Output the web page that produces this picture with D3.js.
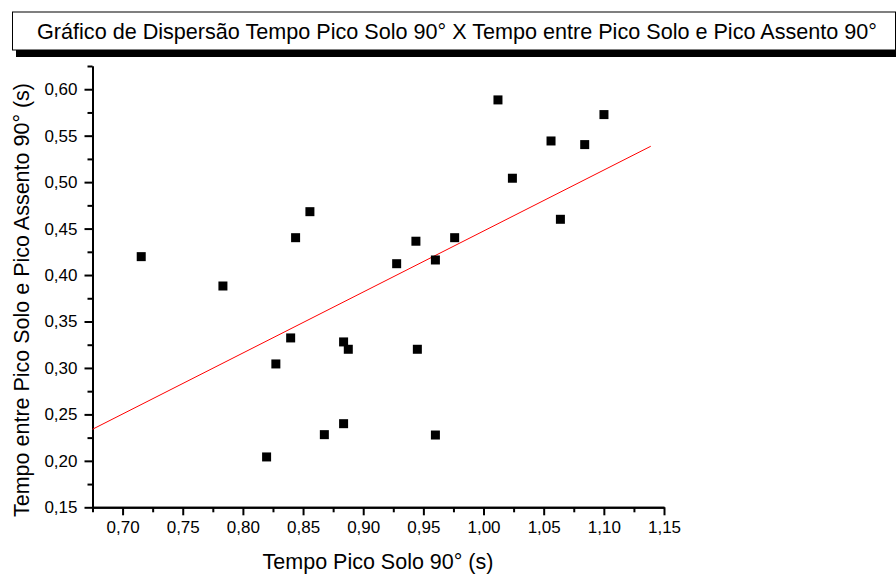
<!DOCTYPE html>
<html><head><meta charset="utf-8">
<script src="https://cdn.jsdelivr.net/npm/d3@7"></script>
<style>body{margin:0;background:#fff}svg{display:block}text{font-family:"Liberation Sans",Arial,sans-serif}</style>
</head><body><svg id="c" width="896" height="574"></svg>
<script>
const title = "Gráfico de Dispersão Tempo Pico Solo 90° X Tempo entre Pico Solo e Pico Assento 90°";
const xLabel = "Tempo Pico Solo 90° (s)";
const yLabel = "Tempo entre Pico Solo e Pico Assento 90° (s)";
const xValues = [0.7155,0.7834,0.8197,0.8274,0.8397,0.8438,0.8557,0.8677,0.8837,0.8876,0.8837,0.9278,0.9438,0.945,0.960,0.960,0.976,1.012,1.024,1.0561,1.0639,1.0841,1.1001];
const yValues = [0.4198,0.3882,0.2042,0.3043,0.3323,0.4402,0.4682,0.2282,0.328,0.3201,0.240,0.4122,0.4364,0.3201,0.4162,0.2278,0.4402,0.5885,0.5042,0.5443,0.460,0.5404,0.5727];
const fitX = [0.675, 1.139];
const fitY = [0.234, 0.5386];
const xTicks = [0.70,0.75,0.80,0.85,0.90,0.95,1.00,1.05,1.10,1.15];
const yTicks = [0.15,0.20,0.25,0.30,0.35,0.40,0.45,0.50,0.55,0.60];
const xMinorTicks = [0.675,0.725,0.775,0.825,0.875,0.925,0.975,1.025,1.075,1.125];
const yMinorTicks = [0.175,0.225,0.275,0.325,0.375,0.425,0.475,0.525,0.575,0.625];
const xDomain = [0.675, 1.15];
const yDomain = [0.15, 0.625];

const svg = d3.select("#c");
const x = d3.scaleLinear().domain(xDomain).range([92.5, 664]);
const y = d3.scaleLinear().domain(yDomain).range([507.3, 66]);
const fmt = d => d3.format(".2f")(d).replace(".", ",");

// title box with shadow
svg.append("rect").attr("x",16).attr("y",50).attr("width",890).attr("height",7).attr("fill","#000");
svg.append("rect").attr("x",12.5).attr("y",12).attr("width",883).attr("height",38).attr("fill","#fff").attr("stroke","#000").attr("stroke-width",1);
svg.append("text").attr("x",457).attr("y",39).attr("text-anchor","middle").attr("font-size",21.6).text(title);

const gx = svg.append("g").attr("transform","translate(0,507.3)");
gx.call(d3.axisBottom(x).tickValues(xTicks).tickFormat(fmt).tickSize(8).tickSizeOuter(0).tickPadding(6));
const gxm = svg.append("g").attr("transform","translate(0,507.3)");
gxm.call(d3.axisBottom(x).tickValues(xMinorTicks).tickFormat("").tickSize(5).tickSizeOuter(0));
const gy = svg.append("g").attr("transform","translate(92.5,0)");
gy.call(d3.axisLeft(y).tickValues(yTicks).tickFormat(fmt).tickSize(8).tickSizeOuter(0).tickPadding(7));
const gym = svg.append("g").attr("transform","translate(92.5,0)");
gym.call(d3.axisLeft(y).tickValues(yMinorTicks).tickFormat("").tickSize(5).tickSizeOuter(0));
[gx,gxm,gy,gym].forEach(g=>{
  g.attr("font-size",17).attr("font-family","Liberation Sans, Arial, sans-serif");
  g.selectAll("path.domain").attr("stroke","#000").attr("stroke-width",2);
  g.selectAll(".tick line").attr("stroke","#000").attr("stroke-width",2);
  g.selectAll(".tick text").attr("fill","#000");
});

// fit line
svg.append("line").attr("x1",x(fitX[0])).attr("y1",y(fitY[0])).attr("x2",x(fitX[1])).attr("y2",y(fitY[1]))
  .attr("stroke","#ff0000").attr("stroke-width",1);

// points
const s = 9;
svg.append("g").selectAll("rect").data(xValues.map((v,i)=>[v,yValues[i]])).join("rect")
  .attr("x", d => x(d[0]) - s/2).attr("y", d => y(d[1]) - s/2).attr("width", s).attr("height", s).attr("fill","#000");

// axis labels
svg.append("text").attr("x",378).attr("y",569).attr("text-anchor","middle").attr("font-size",21.5).text(xLabel);
svg.append("text").attr("transform","translate(29,300) rotate(-90)").attr("text-anchor","middle").attr("font-size",21.5).text(yLabel);
</script></body></html>
